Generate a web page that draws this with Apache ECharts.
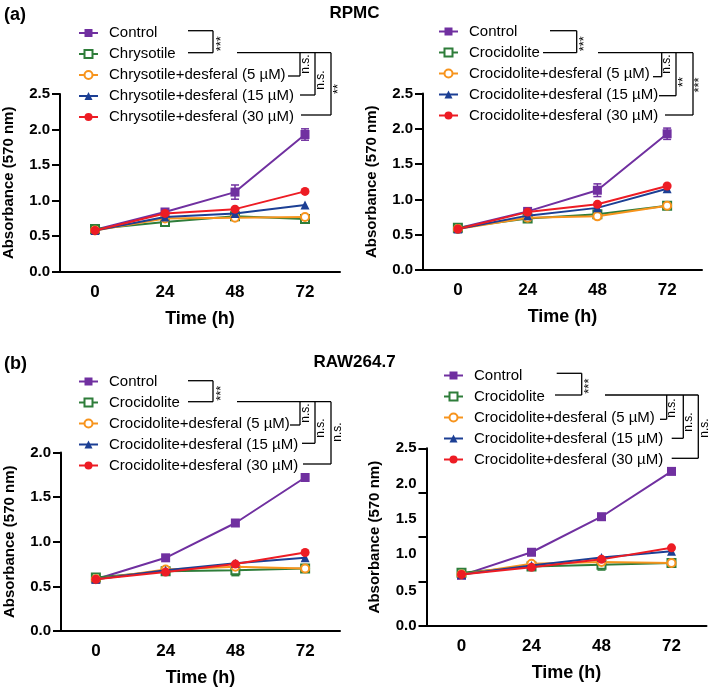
<!DOCTYPE html>
<html><head><meta charset="utf-8">
<script src="https://cdn.jsdelivr.net/npm/echarts@6/dist/echarts.min.js"></script>
<style>html,body{margin:0;padding:0;background:#fff}#c{width:709px;height:688px}</style>
</head><body><div id="c"></div>
<script>
// ---------- DATA ----------
const timeCats = ['0', '24', '48', '72'];
const yTicksA = ['0.0', '0.5', '1.0', '1.5', '2.0', '2.5'];
const yTicksB = ['0.0', '0.5', '1.0', '1.5', '2.0'];
// labels printed on the lower-right panel's axis (they sit at uneven heights in the figure)
const yLabelsBR = ['0.0', '0.5', '1.0', '1.5', '2.0', '2.5'];
const yLabelPosBR = [0, 0.40, 0.81, 1.21, 1.60, 2.0];

const namesChry = ['Control', 'Chrysotile', 'Chrysotile+desferal (5 µM)', 'Chrysotile+desferal (15 µM)', 'Chrysotile+desferal (30 µM)'];
const namesCroc = ['Control', 'Crocidolite', 'Crocidolite+desferal (5 µM)', 'Crocidolite+desferal (15 µM)', 'Crocidolite+desferal (30 µM)'];

// (a) RPMC, chrysotile
const aL_control = [0.59, 0.84, 1.12, 1.93];
const aL_fiber   = [0.60, 0.70, 0.78, 0.74];
const aL_d5      = [0.58, 0.75, 0.76, 0.77];
const aL_d15     = [0.58, 0.77, 0.82, 0.94];
const aL_d30     = [0.58, 0.82, 0.88, 1.13];
const aL_controlErr = [0.01, 0.02, 0.10, 0.08];
// (a) RPMC, crocidolite
const aR_control = [0.59, 0.83, 1.13, 1.93];
const aR_fiber   = [0.60, 0.73, 0.79, 0.91];
const aR_d5      = [0.58, 0.74, 0.76, 0.91];
const aR_d15     = [0.58, 0.77, 0.88, 1.15];
const aR_d30     = [0.58, 0.82, 0.93, 1.19];
const aR_controlErr = [0.01, 0.03, 0.09, 0.08];
// (b) RAW264.7, crocidolite
const bL_control = [0.58, 0.82, 1.21, 1.72];
const bL_fiber   = [0.60, 0.67, 0.68, 0.70];
const bL_d5      = [0.58, 0.69, 0.72, 0.70];
const bL_d15     = [0.58, 0.68, 0.76, 0.82];
const bL_d30     = [0.58, 0.66, 0.75, 0.88];
const bL_fiberErr = [0.01, 0.02, 0.06, 0.02];
const bR_control = [0.57, 0.83, 1.23, 1.74];
const bR_fiber   = [0.60, 0.67, 0.69, 0.71];
const bR_d5      = [0.58, 0.70, 0.72, 0.71];
const bR_d15     = [0.58, 0.68, 0.77, 0.84];
const bR_d30     = [0.58, 0.66, 0.75, 0.88];
const bR_fiberErr = [0.01, 0.02, 0.06, 0.02];

// ---------- STYLE ----------
const COLORS = ['#7030A0', '#2E7D3A', '#F7941D', '#1C3F94', '#ED1C24'];
const SYMBOLS = ['rect', 'emptyRect', 'emptyCircle', 'triangle', 'circle'];
const SIZES = [9, 8, 8, 9, 9];
const FONT = 'Liberation Sans, Arial, Helvetica, sans-serif';

const grids = [
  {left: 60, top: 94, width: 280, height: 177.7},
  {left: 423, top: 93.5, width: 279, height: 176.5},
  {left: 61, top: 452.5, width: 279, height: 179.5},
  {left: 426.5, top: 448.3, width: 280, height: 177.7}
];
const panelSeries = [
  [aL_control, aL_fiber, aL_d5, aL_d15, aL_d30],
  [aR_control, aR_fiber, aR_d5, aR_d15, aR_d30],
  [bL_control, bL_fiber, bL_d5, bL_d15, bL_d30],
  [bR_control, bR_fiber, bR_d5, bR_d15, bR_d30]
];
const panelNames = [namesChry, namesCroc, namesCroc, namesCroc];
const panelErr = [
  {s: 0, base: aL_control, err: aL_controlErr},
  {s: 0, base: aR_control, err: aR_controlErr},
  {s: 1, base: bL_fiber, err: bL_fiberErr},
  {s: 1, base: bR_fiber, err: bR_fiberErr}
];
const yMax = [2.5, 2.5, 2.0, 2.0];

const xAxes = [], yAxes = [], series = [];
grids.forEach((g, i) => {
  xAxes.push({
    type: 'category', gridIndex: i, data: timeCats, boundaryGap: true,
    axisLine: {lineStyle: {color: '#000', width: 2}},
    axisTick: {alignWithLabel: true, length: 7, lineStyle: {color: '#000', width: 2}},
    axisLabel: {color: '#000', fontSize: 17, fontWeight: 'bold', fontFamily: FONT, margin: 12},
    name: 'Time (h)', nameLocation: 'middle', nameGap: 38,
    nameTextStyle: {color: '#000', fontSize: 18, fontWeight: 'bold', fontFamily: FONT}
  });
  const ya = {
    type: 'value', gridIndex: i, min: 0, max: yMax[i], interval: 0.5,
    splitLine: {show: false},
    axisLine: {show: true, lineStyle: {color: '#000', width: 2}},
    axisTick: {show: true, length: 8, lineStyle: {color: '#000', width: 2}},
    axisLabel: {color: '#000', fontSize: 15, fontWeight: 'bold', fontFamily: FONT, margin: 10,
      formatter: v => (i < 2 ? yTicksA : yTicksB)[Math.round(v / 0.5)] },
    name: 'Absorbance (570 nm)', nameLocation: 'middle', nameGap: 44,
    nameTextStyle: {color: '#000', fontSize: 15, fontWeight: 'bold', fontFamily: FONT}
  };
  if (i === 3) {
    ya.axisLabel.customValues = yLabelPosBR;
    ya.axisLabel.formatter = v => {
      let k = 0, best = 1e9;
      yLabelPosBR.forEach((p, j) => { if (Math.abs(p - v) < best) { best = Math.abs(p - v); k = j; } });
      return yLabelsBR[k];
    };
  }
  yAxes.push(ya);

  // error bars
  const pe = panelErr[i];
  series.push({
    type: 'custom', xAxisIndex: i, yAxisIndex: i, z: 1, silent: true,
    data: pe.base.map((v, k) => [k, v - pe.err[k], v + pe.err[k]]),
    renderItem: (params, api) => {
      const lo = api.coord([api.value(0), api.value(1)]);
      const hi = api.coord([api.value(0), api.value(2)]);
      const w = 4;
      const st = {stroke: COLORS[pe.s], lineWidth: 1.5};
      return {type: 'group', children: [
        {type: 'line', shape: {x1: lo[0], y1: lo[1], x2: hi[0], y2: hi[1]}, style: st},
        {type: 'line', shape: {x1: lo[0] - w, y1: lo[1], x2: lo[0] + w, y2: lo[1]}, style: st},
        {type: 'line', shape: {x1: hi[0] - w, y1: hi[1], x2: hi[0] + w, y2: hi[1]}, style: st}
      ]};
    }
  });
  panelSeries[i].forEach((arr, s) => {
    series.push({
      type: 'line', name: panelNames[i][s], xAxisIndex: i, yAxisIndex: i, data: arr,
      symbol: SYMBOLS[s], symbolSize: SIZES[s], z: 2 + s,
      lineStyle: {color: COLORS[s], width: 2},
      itemStyle: {color: COLORS[s], borderColor: COLORS[s], borderWidth: s === 1 || s === 2 ? 1.5 : 0},
      emphasis: {disabled: true}, animation: false
    });
  });
});

const legendBase = {
  orient: 'vertical', itemWidth: 19, itemHeight: 10, itemGap: 6, padding: 0,
  selectedMode: false,
  textStyle: {color: '#000', fontSize: 15, fontFamily: FONT, lineHeight: 15, padding: [0, 0, 0, 6]}
};
const legends = [
  Object.assign({}, legendBase, {left: 78, top: 25.5, data: namesChry}),
  Object.assign({}, legendBase, {left: 438, top: 24, data: namesCroc}),
  Object.assign({}, legendBase, {left: 78, top: 374, data: namesCroc}),
  Object.assign({}, legendBase, {left: 443, top: 368, data: namesCroc})
];

// ---------- ANNOTATIONS (significance brackets) ----------
const LW = 1.3;
function seg(x1, y1, x2, y2) {
  return {type: 'line', shape: {x1, y1, x2, y2}, style: {stroke: '#000', lineWidth: LW}, silent: true};
}
function vtext(x, y, t, fs) {
  return {type: 'text', x, y, rotation: Math.PI / 2, silent: true,
    style: {text: t, fontSize: fs, fontFamily: FONT, fill: '#000', align: 'center', verticalAlign: 'middle'}};
}
function bracketSet(o) {
  const g = [];
  g.push(seg(o.c0, o.r0, o.cx, o.r0), seg(o.cx, o.r0, o.cx, o.r1), seg(o.c0b, o.r1, o.cx, o.r1));
  g.push(vtext(o.cx + 8, (o.r0 + o.r1) / 2 + 2, '***', 13));
  g.push(seg(o.l0, o.r1, o.v[2], o.r1));
  for (let k = 0; k < 3; k++) {
    g.push(seg(o.v[k], o.r1, o.v[k], o.rows[k]));
    g.push(seg(o.stub[k], o.rows[k], o.v[k], o.rows[k]));
    g.push(vtext(o.tx[k], o.ty[k], o.lab[k], o.lab[k] === 'n.s.' ? 12 : 13));
  }
  return g;
}
const graphics = [].concat(
  bracketSet({c0: 188, c0b: 188, cx: 213, r0: 30.7, r1: 52.7, l0: 237,
    v: [300, 315, 331], rows: [76, 95, 115], stub: [288, 300, 301],
    tx: [306, 321, 338], ty: [64, 80, 89], lab: ['n.s.', 'n.s.', '**']}),
  bracketSet({c0: 550, c0b: 543, cx: 576.7, r0: 30.7, r1: 52.7, l0: 598,
    v: [661.7, 676, 693], rows: [76.7, 95.7, 115], stub: [653, 659, 665],
    tx: [667, 683, 699], ty: [64, 82, 85], lab: ['n.s.', '**', '***']}),
  bracketSet({c0: 188, c0b: 188, cx: 213, r0: 380.7, r1: 401.7, l0: 237,
    v: [300, 315, 331], rows: [425, 443.3, 464], stub: [290, 302, 303],
    tx: [306, 321, 337.5], ty: [413, 428, 432], lab: ['n.s.', 'n.s.', 'n.s.']}),
  bracketSet({c0: 556.7, c0b: 555, cx: 581.7, r0: 373.3, r1: 395, l0: 605,
    v: [666.7, 683.3, 698.3], rows: [419.3, 438.3, 458.3], stub: [660, 671.7, 671.7],
    tx: [672, 689, 705], ty: [408, 422, 428], lab: ['n.s.', 'n.s.', 'n.s.']})
);
const titles = [
  {text: '(a)', left: 4, top: 6, padding: 0, textStyle: {fontSize: 18, fontWeight: 'bold', color: '#000', fontFamily: FONT}},
  {text: 'RPMC', left: 'center', top: 5, padding: 0, textStyle: {fontSize: 17, fontWeight: 'bold', color: '#000', fontFamily: FONT}},
  {text: '(b)', left: 4, top: 355, padding: 0, textStyle: {fontSize: 18, fontWeight: 'bold', color: '#000', fontFamily: FONT}},
  {text: 'RAW264.7', left: 'center', top: 354, padding: 0, textStyle: {fontSize: 17, fontWeight: 'bold', color: '#000', fontFamily: FONT}}
];

const chart = echarts.init(document.getElementById('c'), null, {renderer: 'canvas'});
chart.setOption({
  animation: false,
  backgroundColor: '#fff',
  title: titles,
  grid: grids,
  xAxis: xAxes,
  yAxis: yAxes,
  legend: legends,
  series: series,
  graphic: graphics
});
</script></body></html>
